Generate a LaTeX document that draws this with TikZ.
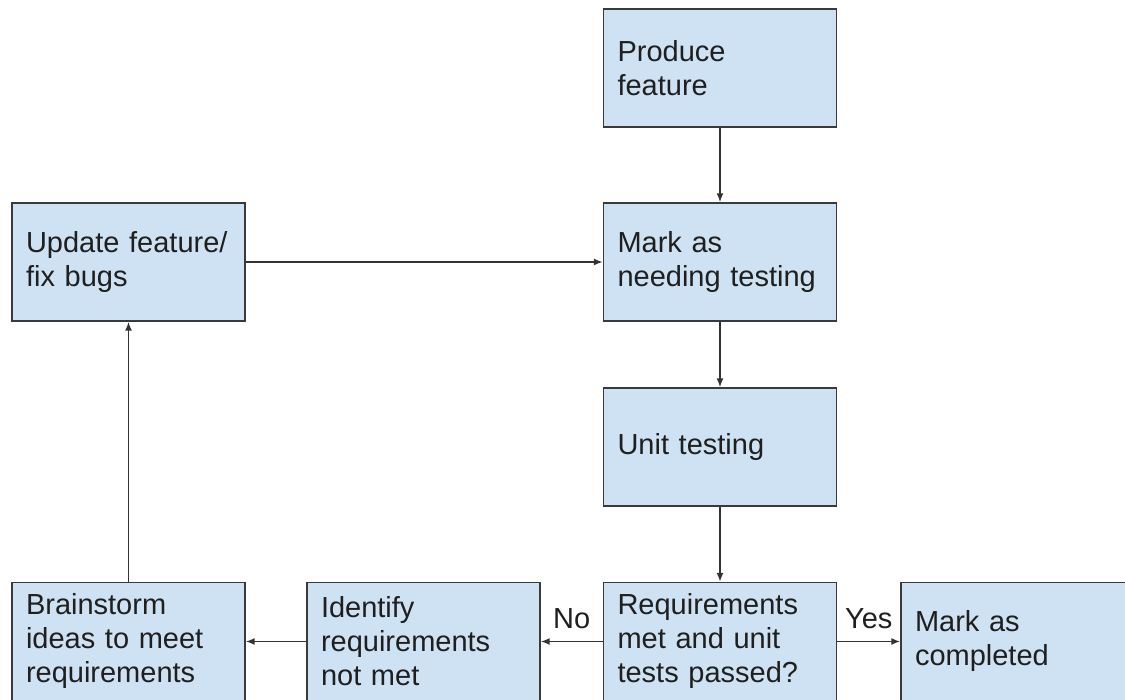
\documentclass[tikz,border=0pt]{standalone}
\usepackage{fontspec}
\setmainfont{Liberation Sans}
\usetikzlibrary{arrows.meta}
\definecolor{boxfill}{HTML}{CFE2F3}
\definecolor{boxline}{HTML}{3A3A3A}
\begin{document}
\begin{tikzpicture}[x=1pt,y=-1pt,
  stepbox/.style={draw=boxline, line width=1.4pt, fill=boxfill,
    minimum width=233pt, minimum height=118pt, inner xsep=14pt,
    text width=205pt, align=left, text=black!88,
    font=\fontsize{29}{34}\selectfont},
  flow/.style={draw=black!80, line width=1.5pt,
    -{Latex[length=9pt,width=7pt]}},
  tag/.style={font=\fontsize{29}{34}\selectfont, text=black!88,
    midway, anchor=base, yshift=13pt, inner sep=0pt}]
\useasboundingbox (0,0) rectangle (1125,700);
\clip (0,0) rectangle (1125,700);

% process boxes
\node[stepbox] (produce)   at (720,68)    {Produce\\feature};
\node[stepbox] (mark)      at (720,262)   {Mark as\\needing testing};
\node[stepbox] (unit)      at (720,447)   {Unit testing};
\node[stepbox] (update)    at (128.5,262) {Update feature/\\fix bugs};
\node[stepbox] (req)       at (720,641.5) {Requirements\\met and unit\\tests passed?};
\node[stepbox] (identify)  at (423.5,641.5) {Identify\\requirements\\not met};
\node[stepbox] (brain)     at (128.5,641.5) {Brainstorm\\ideas to meet\\requirements};
\node[stepbox] (completed) at (1017.5,641.5) {Mark as\\completed};

% connectors
\draw[flow] (produce.south) -- (mark.north);
\draw[flow] (mark.south) -- (unit.north);
\draw[flow] (unit.south) -- (req.north);
\draw[flow] (update.east) -- (mark.west);
\draw[flow] (req.west) -- node[tag] {No} (identify.east);
\draw[flow] (req.east) -- node[tag] {Yes} (completed.west);
\draw[flow] (identify.west) -- (brain.east);
\draw[flow] (brain.north) -- (update.south);
\end{tikzpicture}
\end{document}
